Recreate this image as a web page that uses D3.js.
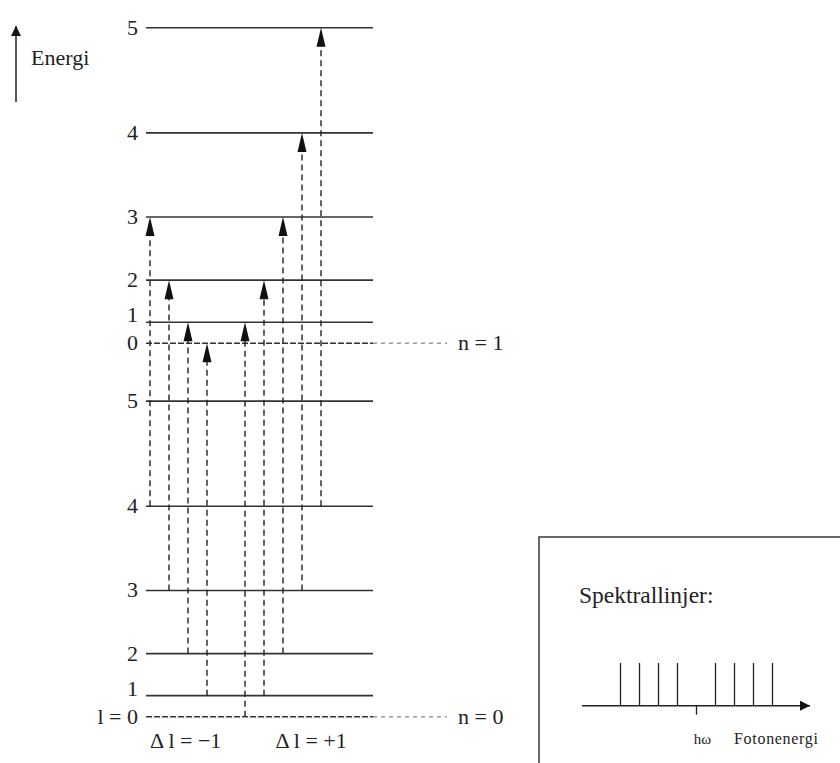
<!DOCTYPE html>
<html>
<head>
<meta charset="utf-8">
<script src="https://cdn.jsdelivr.net/npm/d3@7"></script>
<style>
  body { margin: 0; background: #fff; }
  text { font-family: "Liberation Serif", "DejaVu Serif", serif; fill: #222; }
</style>
</head>
<body>
<script>
const rotLevels = [0, 1, 2, 3, 4, 5];
const rotEnergy = [0, 2, 6, 12, 20, 30];
// vibrational bands
const vibLabels = ['n = 0', 'n = 1'];
const vibEnergy = [0, 35.5];
// transitions n=0 -> n=1
const transLower = [4, 3, 2, 1, 0, 1, 2, 3, 4];
const transUpper = [3, 2, 1, 0, 1, 2, 3, 4, 5];
const transSlot  = [0, 1, 2, 3, 5, 6, 7, 8, 9];
const branchLabels = ['\u0394 l = \u22121', '\u0394 l = +1'];
// spectrum: line offsets around h-omega
const lineOffsets = [-4, -3, -2, -1, 1, 2, 3, 4];

const width = 840, height = 763;

const svg = d3.select('body').append('svg')
  .attr('width', width)
  .attr('height', height);

const defs = svg.append('defs');
defs.append('marker')
  .attr('id', 'head')
  .attr('viewBox', '0 0 10 10')
  .attr('refX', 10).attr('refY', 5)
  .attr('markerWidth', 10).attr('markerHeight', 10)
  .attr('markerUnits', 'userSpaceOnUse')
  .attr('orient', 'auto')
  .append('path').attr('d', 'M0,0L10,5L0,10Z').attr('fill', '#111');

const y = d3.scaleLinear().domain([0, 65.5]).range([716.7, 27.7]);
const xSlot = d3.scaleLinear().domain([0, 9]).range([150, 321]);
const x0 = 146, x1 = 373, xDash = 447;

const levels = [];
vibEnergy.forEach((ev, n) => {
  rotLevels.forEach((l, i) => {
    levels.push({n, l, e: ev + rotEnergy[i]});
  });
});

const gL = svg.append('g');

// level lines (l = 0 is drawn dashed)
gL.selectAll('.lev')
  .data(levels)
  .enter().append('line')
  .attr('x1', x0).attr('x2', x1)
  .attr('y1', d => y(d.e)).attr('y2', d => y(d.e))
  .attr('stroke', '#333')
  .attr('stroke-width', 1.6)
  .attr('stroke-dasharray', d => d.l === 0 ? '6,2' : null);

// dashed extension for the band origins
gL.selectAll('.ext')
  .data(vibEnergy)
  .enter().append('line')
  .attr('x1', x1).attr('x2', xDash)
  .attr('y1', d => y(d)).attr('y2', d => y(d))
  .attr('stroke', '#999')
  .attr('stroke-width', 1.5)
  .attr('stroke-dasharray', '4,4');

gL.selectAll('.vlab')
  .data(vibLabels)
  .enter().append('text')
  .attr('x', xDash + 11)
  .attr('y', (d, i) => y(vibEnergy[i]) + 7)
  .style('font-size', '22px')
  .text(d => d);

// l = 1 label sits on its line, the others are centred on it
gL.selectAll('.llab')
  .data(levels)
  .enter().append('text')
  .attr('x', 138)
  .attr('y', d => y(d.e) + (d.l === 1 ? 0 : 7))
  .attr('text-anchor', 'end')
  .style('font-size', '22px')
  .text(d => (d.n === 0 && d.l === 0) ? 'l = 0' : d.l);

// transitions
const trans = transLower.map((lo, i) => ({
  lo, up: transUpper[i], slot: transSlot[i]
}));

const gT = svg.append('g');
gT.selectAll('.tr')
  .data(trans)
  .enter().append('line')
  .attr('x1', d => xSlot(d.slot)).attr('x2', d => xSlot(d.slot))
  .attr('y1', d => y(vibEnergy[0] + rotEnergy[d.lo]))
  .attr('y2', d => y(vibEnergy[1] + rotEnergy[d.up]) + 18)
  .attr('stroke', '#222')
  .attr('stroke-width', 1.4)
  .attr('stroke-dasharray', '6,4');

gT.selectAll('.ah')
  .data(trans)
  .enter().append('path')
  .attr('d', d => {
    const cx = xSlot(d.slot), ty = y(vibEnergy[1] + rotEnergy[d.up]);
    return 'M' + cx + ',' + ty + 'L' + (cx - 4.5) + ',' + (ty + 19) +
      'L' + (cx + 4.5) + ',' + (ty + 19) + 'Z';
  })
  .attr('fill', '#111');

gT.selectAll('.blab')
  .data(branchLabels)
  .enter().append('text')
  .attr('x', (d, i) => i === 0 ? xSlot(0) : xSlot(6.6))
  .attr('y', 748)
  .style('font-size', '22px')
  .text(d => d);

// energy arrow
svg.append('line')
  .attr('x1', 16).attr('x2', 16)
  .attr('y1', 102).attr('y2', 26)
  .attr('stroke', '#111').attr('stroke-width', 1.4)
  .attr('marker-end', 'url(#head)');
svg.append('text')
  .attr('x', 31).attr('y', 65)
  .style('font-size', '22px')
  .text('Energi');

// spectrum box
const gS = svg.append('g');
gS.append('rect')
  .attr('x', 539).attr('y', 537)
  .attr('width', 320).attr('height', 250)
  .attr('fill', 'none')
  .attr('stroke', '#444').attr('stroke-width', 1.6);

gS.append('text')
  .attr('x', 579).attr('y', 603)
  .style('font-size', '23.5px')
  .text('Spektrallinjer:');

const xs = d3.scaleLinear().domain([-4, 4]).range([620.5, 772.5]);
const axisY = 705.7;

gS.append('line')
  .attr('x1', 582).attr('x2', 810)
  .attr('y1', axisY).attr('y2', axisY)
  .attr('stroke', '#222').attr('stroke-width', 1.4)
  .attr('marker-end', 'url(#head)');

gS.selectAll('.sl')
  .data(lineOffsets)
  .enter().append('line')
  .attr('x1', d => xs(d)).attr('x2', d => xs(d))
  .attr('y1', 663).attr('y2', axisY)
  .attr('stroke', '#222').attr('stroke-width', 1.3);

gS.append('line')
  .attr('x1', xs(0)).attr('x2', xs(0))
  .attr('y1', axisY).attr('y2', axisY + 9)
  .attr('stroke', '#222').attr('stroke-width', 1.3);

gS.append('text')
  .attr('x', xs(0) + 6).attr('y', 744)
  .attr('text-anchor', 'middle')
  .style('font-size', '15px')
  .text('h\u03c9');

gS.append('text')
  .attr('x', 734).attr('y', 744)
  .attr('textLength', 84)
  .style('font-size', '16px')
  .text('Fotonenergi');
</script>
</body>
</html>
